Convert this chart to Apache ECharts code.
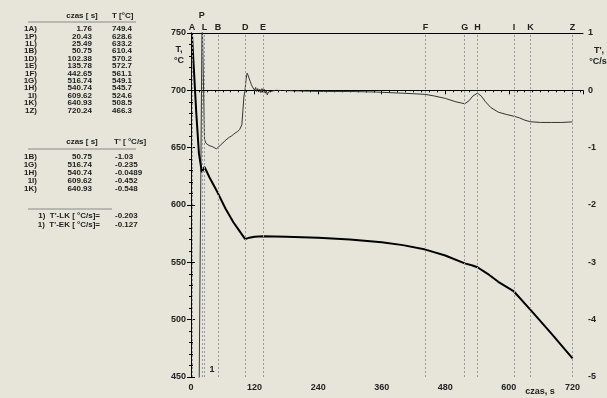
<!DOCTYPE html>
<html><head><meta charset="utf-8">
<script src="https://cdn.jsdelivr.net/npm/echarts@6/dist/echarts.min.js"></script>
<style>html,body{margin:0;padding:0;background:#E7E5D9;}#c{width:607px;height:398px;}</style>
</head><body><div id="c"></div>
<script>
// ---- data ----
const markerNames = ['A','P','L','B','D','E','F','G','H','I','K','Z'];
const markerTimes = [1.76,20.43,25.49,50.75,102.38,135.78,442.65,516.74,540.74,609.62,640.93,720.24];
const markerTemps = [749.4,628.6,633.2,610.4,570.2,572.7,561.1,549.1,545.7,524.6,508.5,466.3];
const derivNames = ['B','G','H','I','K'];
const derivTimes = ['50.75','516.74','540.74','609.62','640.93'];
const derivVals = ['-1.03','-0.235','-0.0489','-0.452','-0.548'];
const rateLabels = ["1)  T'-LK [ °C/s]=", "1)  T'-EK [ °C/s]="];
const rateVals = ['-0.203','-0.127'];

const tempTime = [1.76,5,10,15,20.43,25.49,35,50.75,65,80,95,102.38,110,120,135.78,180,240,300,360,400,442.65,480,516.74,530,540.74,560,580,609.62,640.93,680,720.24];
const tempVal  = [749.4,722,680,645,628.6,633.2,624,610.4,597,585,575,570.2,571.5,572.3,572.7,572.4,571.4,570,567.6,565,561.1,556,549.1,547.5,545.7,540,533,524.6,508.5,488,466.3];

const dTime = [15,21,23.5,25.5,26,28,30,32,34,36,38,40,42,44,46,48,50,52,54,56,58,60,62,64,66,68,70,72,74,76,78,80,82,84,86,88,90,92,94,96,98,100,102,104,106,108,110,112,114,116,118,120,122,124,126,128,130,132,134,136,138,140,142,144,146,148,150,160,200,250,300,350,400,442,460,480,500,510,516.74,525,532,540.74,548,556,566,580,595,609.62,620,630,640.93,660,680,700,720];
const dVal  = [-5.6,1.4,1.4,-0.85,-0.88,-0.92,-0.9,-0.95,-0.93,-0.97,-0.95,-0.98,-0.96,-1.0,-0.98,-1.02,-1.03,-0.99,-1.01,-0.95,-0.97,-0.92,-0.94,-0.88,-0.9,-0.85,-0.87,-0.82,-0.84,-0.8,-0.81,-0.77,-0.78,-0.74,-0.75,-0.72,-0.7,-0.68,-0.65,-0.6,-0.35,-0.1,0.0,0.2,0.3,0.26,0.2,0.15,0.1,0.06,0.04,0.0,0.05,-0.02,0.03,-0.03,0.02,-0.04,0.03,-0.02,0.02,-0.05,0.0,-0.08,-0.03,-0.01,-0.02,0.0,-0.01,-0.02,-0.02,-0.03,-0.05,-0.07,-0.1,-0.14,-0.2,-0.22,-0.235,-0.18,-0.1,-0.0489,-0.1,-0.2,-0.3,-0.38,-0.42,-0.452,-0.48,-0.52,-0.548,-0.56,-0.56,-0.56,-0.55];

const xTicks = {min:0, max:740, interval:120};
const yLeft = {min:450, max:750, interval:50};
const yRight = {min:-5, max:1, interval:1};

// ---- chart ----
const chart = echarts.init(document.getElementById('c'), null, {renderer:'canvas'});
const FONT = 'Liberation Sans';
const txtStyle = {fontFamily:FONT, fontSize:8, fontWeight:'bold', fill:'#222'};

const graphics = [];
function addText(x, y, text, align, size) {
  graphics.push({type:'text', x:x, y:y, style:Object.assign({}, txtStyle, {text:text, textAlign:align||'left', textVerticalAlign:'middle', fontSize:size||8})});
}
function addLine(x1,y1,x2,y2){
  graphics.push({type:'line', shape:{x1:x1,y1:y1,x2:x2,y2:y2}, style:{stroke:'#888', lineWidth:1}});
}
// table 1
addText(82,16,'czas [ s]','center'); addText(112,16,'T [°C]','left');
addLine(28,22,136,22);
for (let i=0;i<markerNames.length;i++){
  const y = 29 + i*7.4;
  addText(37,y,'1'+markerNames[i]+')','right');
  addText(92,y,markerTimes[i].toFixed(2),'right');
  addText(112,y,markerTemps[i].toFixed(1),'left');
}
// table 2
addText(82,142,'czas [ s]','center'); addText(114,142,"T' [ °C/s]",'left');
addLine(28,149,136,149);
for (let i=0;i<derivNames.length;i++){
  const y = 157 + i*8;
  addText(37,y,'1'+derivNames[i]+')','right');
  addText(92,y,derivTimes[i],'right');
  addText(115,y,derivVals[i],'left');
}
addLine(28,209,112,209);
for (let i=0;i<rateLabels.length;i++){
  const y = 216 + i*9;
  addText(100,y,rateLabels[i],'right');
  addText(115,y,rateVals[i],'left');
}
// axis captions
addText(179,50,'T,','center',9); addText(179,61,'°C','center',9);
addText(599,51,"T',",'center',9); addText(598,62,'°C/s','center',9);
addText(540,392,'czas, s','center',9);
addText(212,370,'1','center',9);

const axisCommon = {
  axisLine:{show:true, lineStyle:{color:'#000', width:1}},
  axisTick:{show:true, length:4, lineStyle:{color:'#000'}},
  splitLine:{show:false},
  axisLabel:{fontFamily:FONT, fontSize:9, fontWeight:'bold', color:'#222', showMaxLabel:false}
};

const option = {
  backgroundColor:'#E7E5D9',
  animation:false,
  grid:{left:191, right:24, top:33, bottom:21, containLabel:false},
  xAxis:[
    Object.assign({}, axisCommon, {type:'value', min:xTicks.min, max:xTicks.max, interval:xTicks.interval,
      minorTick:{show:true, splitNumber:8, length:2, lineStyle:{color:'#000'}},
      axisLabel:Object.assign({}, axisCommon.axisLabel, {margin:6})}),
    {type:'value', position:'top', min:xTicks.min, max:xTicks.max, axisLine:{show:true, onZero:false, lineStyle:{color:'#000'}}, axisTick:{show:false}, axisLabel:{show:false}, splitLine:{show:false}}
  ],
  yAxis:[
    Object.assign({}, axisCommon, {type:'value', min:yLeft.min, max:yLeft.max, interval:yLeft.interval,
      minorTick:{show:true, splitNumber:5, length:2, lineStyle:{color:'#000'}},
      axisLabel:Object.assign({}, axisCommon.axisLabel, {margin:5, showMaxLabel:true})}),
    Object.assign({}, axisCommon, {type:'value', position:'right', min:yRight.min, max:yRight.max, interval:yRight.interval,
      minorTick:{show:true, splitNumber:5, length:2, lineStyle:{color:'#000'}},
      axisLabel:Object.assign({}, axisCommon.axisLabel, {margin:5, showMaxLabel:true})})
  ],
  series:[
    {type:'line', name:'T', xAxisIndex:0, yAxisIndex:0, data:tempTime.map((t,i)=>[t,tempVal[i]]),
     showSymbol:false, smooth:false, lineStyle:{color:'#000', width:2}, clip:true, z:3,
     markLine:{silent:true, symbol:['none','none'], animation:false,
       data:[
         ...markerTimes.map((t,i)=>({xAxis:t, lineStyle:{type:[2,2], color:'#999', width:1},
            label:{show:true, formatter:markerNames[i], position:'end', distance: i===1?13:1,
                   fontFamily:FONT, fontSize:9, fontWeight:'bold', color:'#222'}})),
         {yAxis:700, lineStyle:{type:[3,3], color:'#000', width:1}, label:{show:false}}
       ]}},
    {type:'line', name:"T'", xAxisIndex:0, yAxisIndex:1, data:dTime.map((t,i)=>[t,dVal[i]]),
     showSymbol:false, smooth:false, lineStyle:{color:'#333', width:1}, clip:true, z:2}
  ],
  graphic:graphics
};
chart.setOption(option);
</script></body></html>
